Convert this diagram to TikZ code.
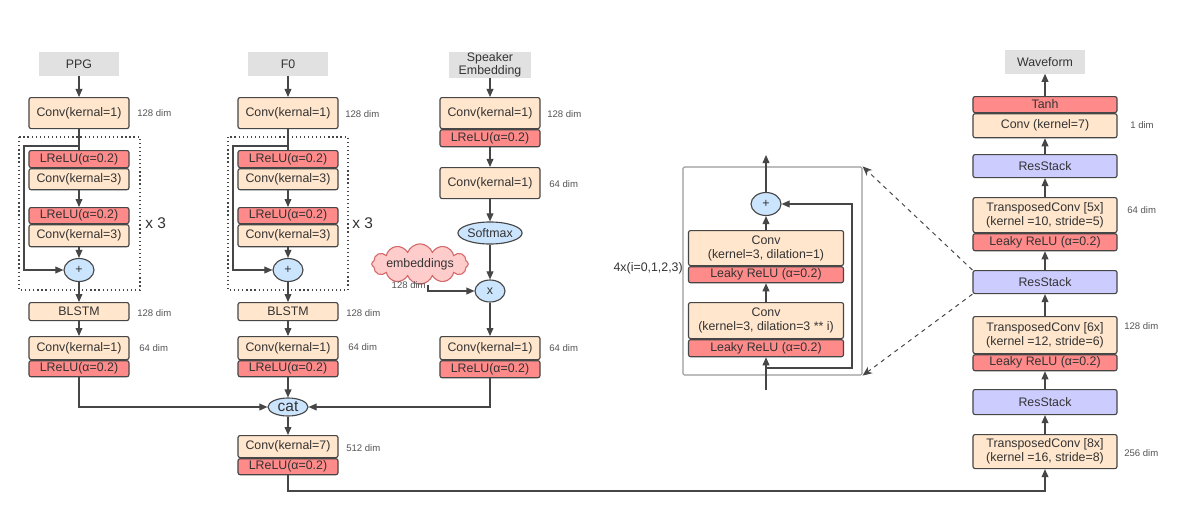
\documentclass[tikz,border=0pt]{standalone}
\usepackage{fontspec}
\setmainfont{Liberation Sans}
\usetikzlibrary{arrows.meta, positioning, shapes.geometric, shapes.symbols}
\definecolor{edge}{HTML}{464646}
\definecolor{ink}{HTML}{333333}
\definecolor{muted}{HTML}{555555}
\definecolor{peach}{HTML}{FFE6CC}
\definecolor{salmon}{HTML}{FF8A8A}
\definecolor{lilac}{HTML}{CCCCFF}
\definecolor{skyblue}{HTML}{CCE5FF}
\definecolor{inputgray}{HTML}{E1E1E1}
\definecolor{pinkfill}{HTML}{FFCCCC}
\definecolor{pinkedge}{HTML}{D46A6A}
\definecolor{frame}{HTML}{9A9A9A}
\tikzset{
  block/.style={
    rectangle, rounded corners=1.5pt,
    draw=edge, fill=peach, line width=0.8pt,
    minimum width=2.5cm, inner sep=0pt,
    align=center, text=ink, font=\fontsize{8.8}{10}\selectfont
  },
  convbox/.style={block},
  actbox/.style={block, fill=salmon},
  resbox/.style={block, fill=lilac},
  wide/.style={minimum width=3.6cm},
  inbox/.style={
    rectangle, fill=inputgray, minimum width=2cm, minimum height=0.575cm,
    inner sep=0pt, align=center, text=ink, font=\fontsize{8.8}{9.6}\selectfont
  },
  opnode/.style={ellipse, draw=edge, fill=skyblue, line width=0.8pt,
    inner sep=0pt, text=ink, font=\fontsize{8.8}{10}\selectfont},
  framebox/.style={rectangle, rounded corners=1pt, draw=frame, line width=0.8pt},
  dimtext/.style={font=\fontsize{6.8}{8}\selectfont, text=muted, anchor=west, inner sep=0pt},
  note/.style={text=ink, inner sep=0pt},
  arrow/.style={-{Triangle[length=2mm,width=1.7mm]}, line width=0.8pt, draw=edge},
  link/.style={line width=0.8pt, draw=edge},
  repeatbox/.style={draw=edge, dotted, line width=0.9pt},
  dasharrow/.style={-{Stealth[length=2.4mm,width=2mm]}, dashed, line width=0.7pt, draw=edge},
}

\begin{document}
\begin{tikzpicture}[x=0.025cm, y=-0.025cm]
  \path[fill=white, use as bounding box] (0,0) rectangle (1200,519);

  % PPG branch
  \node[inbox] (ppg) at (79,64) {PPG};
  \node[convbox, minimum height=0.775cm, anchor=north] (ppgin) at (79,97) {Conv(kernal=1)};
  \node[actbox, minimum height=0.425cm, anchor=north] (ppgact1) at (79,150) {LReLU(α=0.2)};
  \node[convbox, minimum height=0.525cm, below=0pt of ppgact1] (ppgconv1) {Conv(kernal=3)};
  \node[actbox, minimum height=0.4cm, anchor=north] (ppgact2) at (79,207) {LReLU(α=0.2)};
  \node[convbox, minimum height=0.55cm, below=0pt of ppgact2] (ppgconv2) {Conv(kernal=3)};
  \node[opnode, minimum width=0.75cm, minimum height=0.575cm] (ppgadd) at (79,270) {+};
  \node[convbox, minimum height=0.45cm, anchor=north] (ppglstm) at (79,302) {BLSTM};
  \node[convbox, minimum height=0.575cm, anchor=north] (ppgout) at (79,336) {Conv(kernal=1)};
  \node[actbox, minimum height=0.4cm, below=0pt of ppgout] (ppgact3) {LReLU(α=0.2)};
  \draw[repeatbox] (19,137) rectangle (140,290);
  \node[note, anchor=west, font=\fontsize{11}{12}\selectfont] (ppgrep) at (145,223) {x 3};
  \coordinate (ppgsplit) at (79,146);

  % F0 branch
  \node[inbox] (fzero) at (288,64) {F0};
  \node[convbox, minimum height=0.775cm, anchor=north] (fzeroin) at (288,97) {Conv(kernal=1)};
  \node[actbox, minimum height=0.425cm, anchor=north] (fzeroact1) at (288,150) {LReLU(α=0.2)};
  \node[convbox, minimum height=0.525cm, below=0pt of fzeroact1] (fzeroconv1) {Conv(kernal=3)};
  \node[actbox, minimum height=0.4cm, anchor=north] (fzeroact2) at (288,207) {LReLU(α=0.2)};
  \node[convbox, minimum height=0.55cm, below=0pt of fzeroact2] (fzeroconv2) {Conv(kernal=3)};
  \node[opnode, minimum width=0.75cm, minimum height=0.575cm] (fzeroadd) at (288,270) {+};
  \node[convbox, minimum height=0.45cm, anchor=north] (fzerolstm) at (288,302) {BLSTM};
  \node[convbox, minimum height=0.575cm, anchor=north] (fzeroout) at (288,336) {Conv(kernal=1)};
  \node[actbox, minimum height=0.4cm, below=0pt of fzeroout] (fzeroact3) {LReLU(α=0.2)};
  \draw[repeatbox] (228,137) rectangle (348,290);
  \node[note, anchor=west, font=\fontsize{11}{12}\selectfont] (fzerorep) at (352,223) {x 3};
  \coordinate (fzerosplit) at (288,146);

  % speaker branch
  \node[inbox, minimum width=2.025cm] (spk) at (490,65) {Speaker\\Embedding};
  \node[convbox, minimum height=0.775cm, anchor=north] (spkin) at (490,97) {Conv(kernal=1)};
  \node[actbox, minimum height=0.425cm, below=0pt of spkin] (spkact1) {LReLU(α=0.2)};
  \node[convbox, minimum height=0.775cm, anchor=north] (spkconv) at (490,167) {Conv(kernal=1)};
  \node[opnode, minimum width=1.5cm, minimum height=0.55cm] (softmax) at (490,233) {Softmax};
  \node[cloud, cloud puffs=12, cloud puff arc=140, aspect=4, draw=pinkedge, fill=pinkfill,
        line width=0.8pt, minimum width=2.1cm, minimum height=0.5cm, inner sep=0pt, text=ink,
        font=\fontsize{8.8}{10}\selectfont] (emb) at (420,264) {embeddings};
  \node[opnode, minimum width=0.75cm, minimum height=0.55cm] (mul) at (490,291) {x};
  \node[convbox, minimum height=0.575cm, anchor=north] (spkout) at (490,336) {Conv(kernal=1)};
  \node[actbox, minimum height=0.425cm, below=0pt of spkout] (spkact2) {LReLU(α=0.2)};

  % merge
  \node[opnode, minimum width=1cm, minimum height=0.45cm, font=\fontsize{11}{12}\selectfont] (cat) at (288,407) {cat};
  \node[convbox, minimum height=0.55cm, anchor=north] (post) at (288,435) {Conv(kernal=7)};
  \node[actbox, minimum height=0.4cm, below=0pt of post] (postact) {LReLU(α=0.2)};
  \coordinate (bend) at (288,491);

  % dims
  \node[dimtext] at (137,113) {128 dim};
  \node[dimtext] at (345,114) {128 dim};
  \node[dimtext] at (547,114) {128 dim};
  \node[dimtext] at (549,184) {64 dim};
  \node[dimtext, anchor=east] at (426,285) {128 dim};
  \node[dimtext] at (137,313) {128 dim};
  \node[dimtext] at (346,313) {128 dim};
  \node[dimtext] at (139,348) {64 dim};
  \node[dimtext] at (348,347) {64 dim};
  \node[dimtext] at (549,348) {64 dim};
  \node[dimtext] at (346,448) {512 dim};

  % ResStack detail
  \node[framebox, minimum width=4.475cm, minimum height=5.2cm] (detail) at (772.5,271) {};
  \node[opnode, minimum width=0.75cm, minimum height=0.575cm] (radd) at (766,204) {+};
  \node[convbox, minimum width=3.875cm, minimum height=0.875cm, anchor=north] (rconv2) at (766,230)
    {Conv\\(kernel=3, dilation=1)};
  \node[actbox, minimum width=3.875cm, minimum height=0.4cm, below=0pt of rconv2] (ract2) {Leaky ReLU (α=0.2)};
  \node[convbox, minimum width=3.875cm, minimum height=0.9cm, anchor=north] (rconv1) at (766,302)
    {Conv\\(kernel=3, dilation=3 ** i)};
  \node[actbox, minimum width=3.875cm, minimum height=0.425cm, below=0pt of rconv1] (ract1) {Leaky ReLU (α=0.2)};
  \node[note, anchor=east, font=\fontsize{8.8}{10}\selectfont] (rrep) at (683,268) {4x(i=0,1,2,3)};
  \coordinate (rin) at (766,390);
  \coordinate (rsplit) at (766,368);
  \coordinate (rout) at (766,155);

  % vocoder
  \node[inbox] (wave) at (1045,62) {Waveform};
  \node[actbox, wide, minimum height=0.4cm, anchor=north] (tanh) at (1045,96) {Tanh};
  \node[convbox, wide, minimum height=0.6cm, below=0pt of tanh] (outconv) {Conv (kernel=7)};
  \node[resbox, wide, minimum height=0.575cm, anchor=north] (res3) at (1045,154) {ResStack};
  \node[convbox, wide, minimum height=0.875cm, anchor=north] (up3) at (1045,197)
    {TransposedConv [5x]\\(kernel =10, stride=5)};
  \node[actbox, wide, minimum height=0.425cm, below=0pt of up3] (up3act) {Leaky ReLU (α=0.2)};
  \node[resbox, wide, minimum height=0.575cm, anchor=north] (res2) at (1045,270) {ResStack};
  \node[convbox, wide, minimum height=0.925cm, anchor=north] (up2) at (1045,316)
    {TransposedConv [6x]\\(kernel =12, stride=6)};
  \node[actbox, wide, minimum height=0.4cm, below=0pt of up2] (up2act) {Leaky ReLU (α=0.2)};
  \node[resbox, wide, minimum height=0.625cm, anchor=north] (res1) at (1045,389) {ResStack};
  \node[convbox, wide, minimum height=0.85cm, anchor=north] (up1) at (1045,434)
    {TransposedConv [8x]\\(kernel =16, stride=8)};
  \node[dimtext] at (1130,125) {1 dim};
  \node[dimtext] at (1127,210) {64 dim};
  \node[dimtext] at (1124,326) {128 dim};
  \node[dimtext] at (1124,453) {256 dim};

  % connectors
  \draw[arrow] (ppg) -- (ppgin);
  \draw[link] (ppgin) -- (ppgact1);
  \draw[arrow] (ppgconv1) -- (ppgact2);
  \draw[arrow] (ppgconv2) -- (ppgadd);
  \draw[arrow] (ppgadd) -- (ppglstm);
  \draw[arrow] (ppglstm) -- (ppgout);
  \draw[arrow] (ppgsplit) -- ++(-55,0) |- (ppgadd);
  \draw[arrow] (ppgact3) |- (cat);

  \draw[arrow] (fzero) -- (fzeroin);
  \draw[link] (fzeroin) -- (fzeroact1);
  \draw[arrow] (fzeroconv1) -- (fzeroact2);
  \draw[arrow] (fzeroconv2) -- (fzeroadd);
  \draw[arrow] (fzeroadd) -- (fzerolstm);
  \draw[arrow] (fzerolstm) -- (fzeroout);
  \draw[arrow] (fzerosplit) -- ++(-55,0) |- (fzeroadd);
  \draw[arrow] (fzeroact3) -- (cat);

  \draw[arrow] (spk) -- (spkin);
  \draw[arrow] (spkact1) -- (spkconv);
  \draw[arrow] (spkconv) -- (softmax);
  \draw[arrow] (softmax) -- (mul);
  \draw[arrow] ([xshift=0.2cm]emb.south) |- (mul);
  \draw[arrow] (mul) -- (spkout);
  \draw[arrow] (spkact2) |- (cat);

  \draw[arrow] (cat) -- (post);
  \draw[arrow] (postact) -- (bend) -| (up1);

  \draw[arrow] (up1) -- (res1);
  \draw[arrow] (res1) -- (up2act);
  \draw[arrow] (up2) -- (res2);
  \draw[arrow] (res2) -- (up3act);
  \draw[arrow] (up3) -- (res3);
  \draw[arrow] (res3) -- (outconv);
  \draw[arrow] (tanh) -- (wave);

  \draw[arrow] (rin) -- (ract1);
  \draw[arrow] (rconv1) -- (ract2);
  \draw[arrow] (rconv2) -- (radd);
  \draw[arrow] (radd) -- (rout);
  \draw[arrow] (rsplit) -- ++(86,0) |- (radd);

  \draw[dasharrow] (res2.north west) -- (detail.north east);
  \draw[dasharrow] (res2.south west) -- (detail.south east);
\end{tikzpicture}
\end{document}
